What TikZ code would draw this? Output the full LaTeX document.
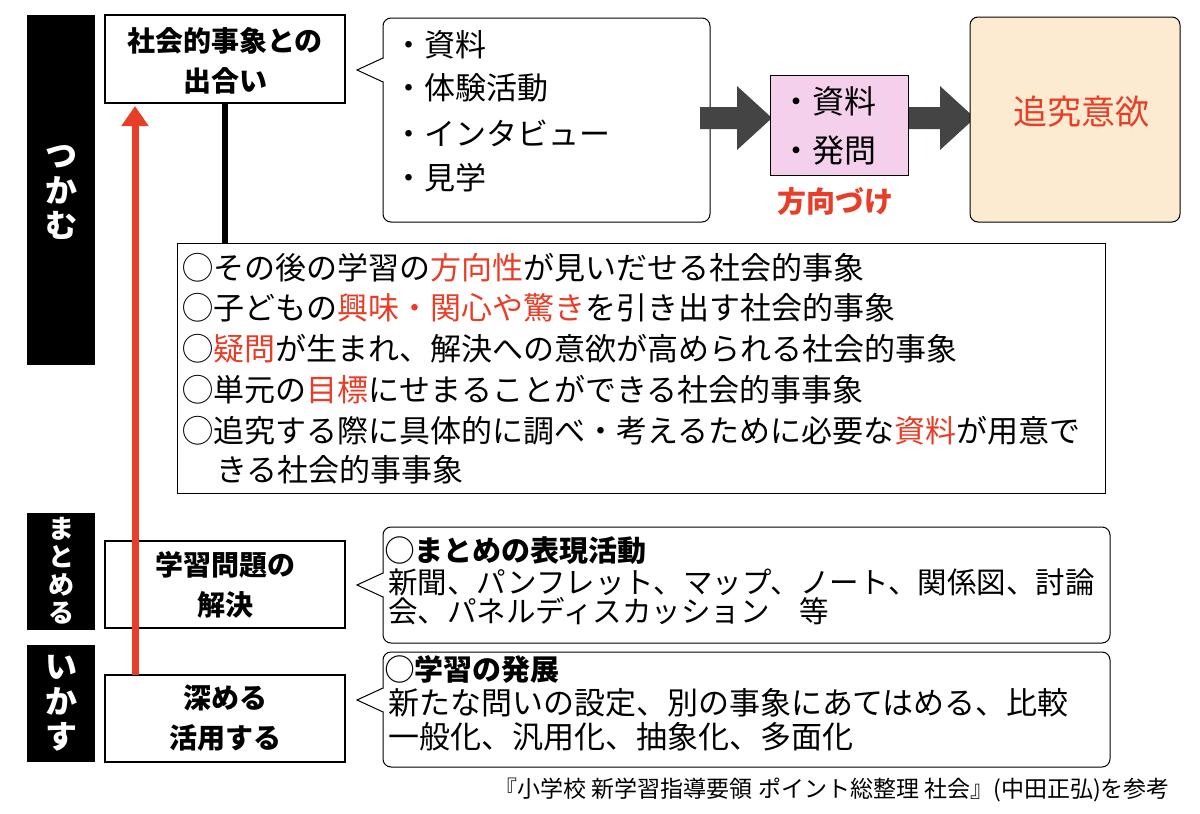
\documentclass[tikz,border=0pt]{standalone}
\usepackage{fontspec}
\usetikzlibrary{arrows.meta}
\setmainfont{Noto Sans CJK JP}
\definecolor{rd}{RGB}{232,62,40}
\definecolor{pk}{RGB}{245,208,236}
\definecolor{bg}{RGB}{252,235,208}
\definecolor{dg}{RGB}{68,68,68}
\begin{document}
\begin{tikzpicture}[x=1pt,y=-1pt,
 bar/.style={fill=black,draw=none},
 vt/.style={text=white,font=\bfseries\fontsize{32}{35}\selectfont,align=center},
 stage/.style={draw=black,line width=2.5pt,fill=white},
 st/.style={font=\bfseries\fontsize{28}{40}\selectfont,align=center},
 bt/.style={anchor=west,font=\fontsize{31}{34}\selectfont,inner sep=0pt},
 ct/.style={anchor=west,font=\fontsize{31}{32}\selectfont,inner sep=0pt},
 mt/.style={anchor=west,font=\fontsize{29.5}{32}\selectfont,inner sep=0pt},
 cl/.style={draw=black,line width=1pt,rounded corners=8pt,fill=white}]
\useasboundingbox (0,0) rectangle (1200,814);
% bars
\fill[bar] (27,15) rectangle (95,365);
\fill[bar] (27,513) rectangle (95,630);
\fill[bar] (27,645) rectangle (95,762);
\node[vt] (b1) at (61,193) {つ\\か\\む};
\node[vt,font=\bfseries\fontsize{26}{28}\selectfont] (b2) at (61,571) {ま\\と\\め\\る};
\node[vt] (b3) at (61,703) {い\\か\\す};
% connector line
\coordinate (l1) at (225,100); \coordinate (l2) at (225,245);
\draw[line width=6pt] (l1) -- (l2);
% stage boxes
\draw[stage] (105,15) rectangle (345,103);
\node[st] (s1) at (225,61) {社会的事象との\\出合い};
\draw[stage] (105,541) rectangle (345,628);
\node[st] (s2) at (225,585) {学習問題の\\解決};
\draw[stage] (105,675) rectangle (345,762);
\node[st] (s3) at (225,718) {深める\\活用する};
% red arrow
\coordinate (r1) at (135,675); \coordinate (r2) at (135,106);
\draw[rd,line width=7pt,-{Triangle[length=20pt,width=26pt]}] (r1) -- (r2);
% callouts
\newcommand\callout[5]{%
 \draw[cl] (#1,#2) rectangle (#3,#4);
 \fill[white] (#1+2,#5-12) -- (357,#5) -- (#1+2,#5+12) -- cycle;
 \draw[line width=1pt] (#1,#5-12) -- (357,#5) -- (#1,#5+12);}
\callout{383}{18}{710}{222}{70}
\node[bt] (c1) at (393,45) {・資料};
\node[bt] (c2) at (393,88) {・体験活動};
\node[bt] (c3) at (393,133) {・インタビュー};
\node[bt] (c4) at (393,178) {・見学};
\callout{383}{527}{1110}{643}{585}
\node[mt,font=\bfseries\fontsize{29}{32}\selectfont] (m1) at (385,551) {◯まとめの表現活動};
\node[mt] (m2) at (388,582) {新聞、パンフレット、マップ、ノート、関係図、討論};
\node[mt] (m3) at (388,611) {会、パネルディスカッション　等};
\callout{383}{652}{1110}{767}{700}
\node[ct,font=\bfseries\fontsize{29}{32}\selectfont] (h1) at (385,669) {◯学習の発展};
\node[ct] (h2) at (388,703) {新たな問いの設定、別の事象にあてはめる、比較};
\node[ct] (h3) at (388,737) {一般化、汎用化、抽象化、多面化};
% block arrows
\fill[dg] (700,107) -- (737,107) -- (737,86) -- (772,118) -- (737,150) -- (737,129) -- (700,129) -- cycle;
\fill[dg] (908,107) -- (940,107) -- (940,86) -- (975,118) -- (940,150) -- (940,129) -- (908,129) -- cycle;
% pink box
\draw[fill=pk,line width=1pt] (770,75) rectangle (908,175);
\node[bt,font=\fontsize{32}{34}\selectfont] (p1) at (780,101) {・資料};
\node[bt,font=\fontsize{32}{34}\selectfont] (p2) at (780,150) {・発問};
\node[font=\bfseries\fontsize{29}{30}\selectfont,text=rd] (p3) at (835,201) {方向づけ};
% beige
\draw[fill=bg,line width=1pt,rounded corners=8pt] (970,17) rectangle (1180,222);
\node[font=\fontsize{34}{36}\selectfont,text=rd] (g) at (1081,112) {追究意欲};
% big box
\draw[fill=white,line width=1pt] (177,243) rectangle (1105,493);
\node[bt] (t1) at (182,268) {◯その後の学習の\textcolor{rd}{方向性}が見いだせる社会的事象};
\node[bt] (t2) at (182,308) {◯子どもの\textcolor{rd}{興味・関心や驚き}を引き出す社会的事象};
\node[bt] (t3) at (182,349) {◯\textcolor{rd}{疑問}が生まれ、解決への意欲が高められる社会的事象};
\node[bt] (t4) at (182,390) {◯単元の\textcolor{rd}{目標}にせまることができる社会的事事象};
\node[bt] (t5) at (182,431) {◯追究する際に具体的に調べ・考えるために必要な\textcolor{rd}{資料}が用意で};
\node[bt] (t6) at (216,470) {きる社会的事事象};
% caption
\node[anchor=east,font=\fontsize{23}{24}\selectfont,inner sep=0pt] (cap) at (1170,790) {『小学校 新学習指導要領 ポイント総整理 社会』(中田正弘)を参考};
\end{tikzpicture}
\end{document}
